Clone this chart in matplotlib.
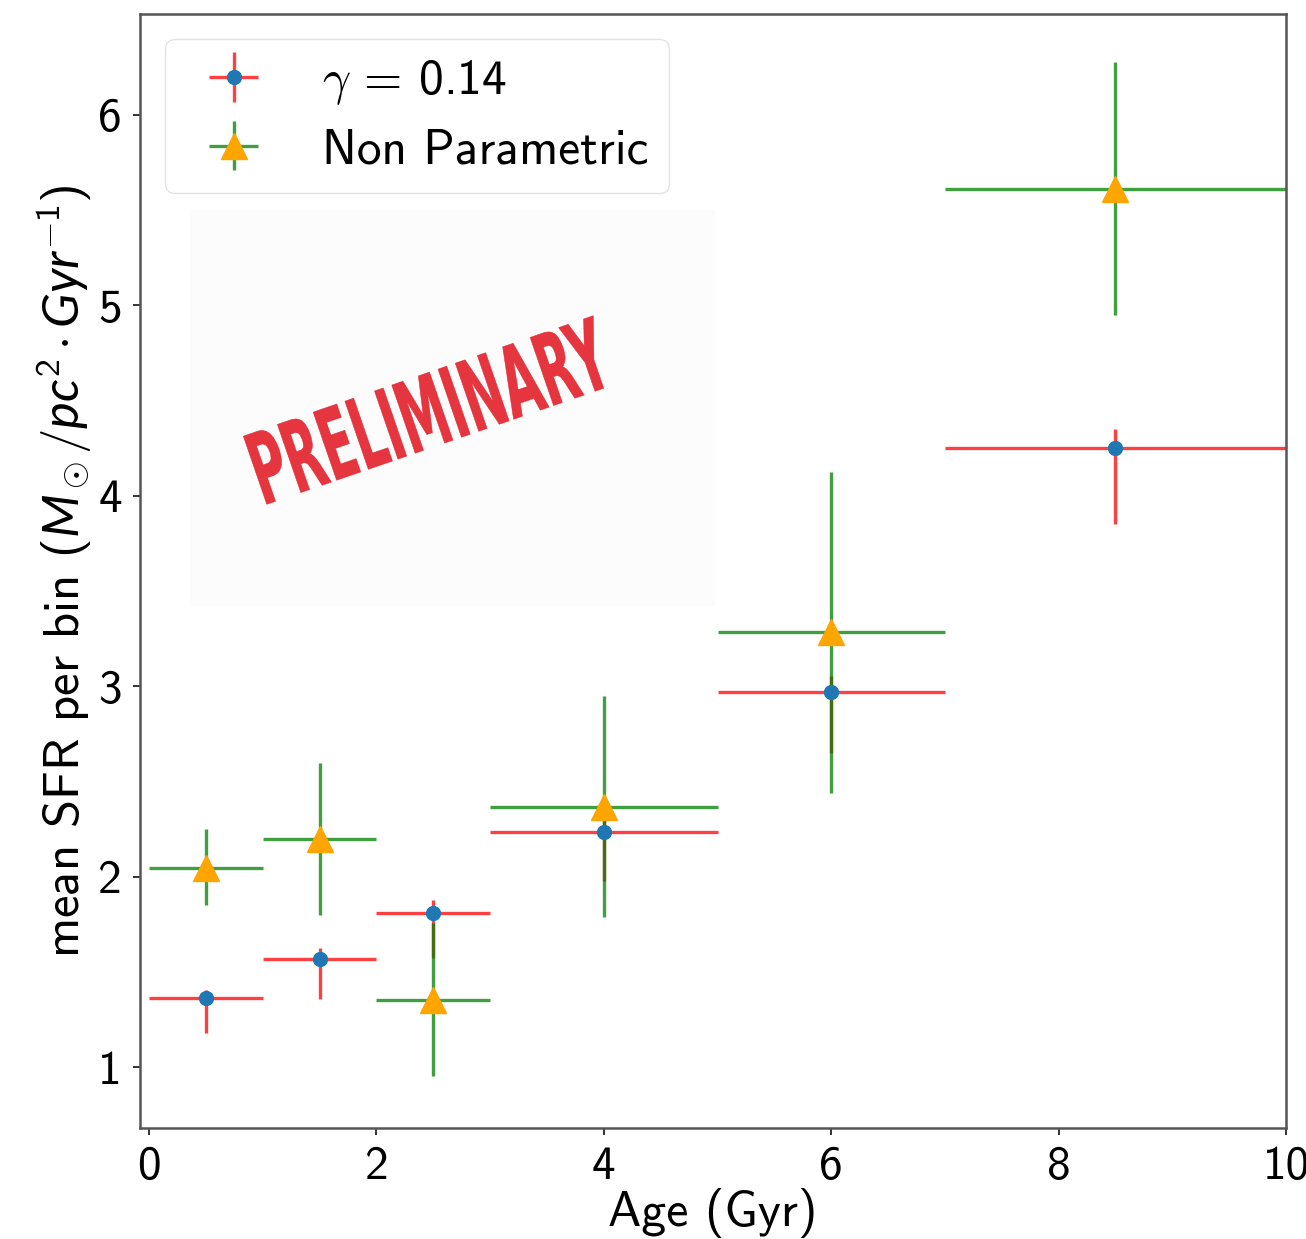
import matplotlib
matplotlib.use("Agg")
import matplotlib.pyplot as plt
from matplotlib.patches import Rectangle, PathPatch
from matplotlib.textpath import TextPath
from matplotlib.font_manager import FontProperties
from matplotlib.transforms import Affine2D

plt.rcParams['font.family'] = 'cmss10'
plt.rcParams['axes.unicode_minus'] = False
plt.rcParams['mathtext.fontset'] = 'custom'
plt.rcParams['mathtext.rm'] = 'cmss10'
plt.rcParams['mathtext.it'] = 'Lato:italic'
plt.rcParams['mathtext.bf'] = 'cmss10:bold'

# ---- age bins (Gyr) ----
bin_lo = [0, 1, 2, 3, 5, 7]
bin_hi = [1, 2, 3, 5, 7, 10]
age_mid = [0.5, 1.5, 2.5, 4, 6, 8.5]

# ---- gamma = 0.14 fit ----
sfr_gamma = [1.36, 1.57, 1.81, 2.236, 2.97, 4.25]
gamma_err_lo = [0.18, 0.215, 0.235, 0.26, 0.32, 0.40]
gamma_err_hi = [0.045, 0.053, 0.065, 0.065, 0.083, 0.10]

# ---- non parametric ----
sfr_np = [2.044, 2.196, 1.354, 2.368, 3.283, 5.611]
np_err_lo = [0.193, 0.40, 0.40, 0.58, 0.845, 0.66]
np_err_hi = [0.204, 0.40, 0.40, 0.58, 0.84, 0.665]

xerr_lo = [m - lo for m, lo in zip(age_mid, bin_lo)]
xerr_hi = [hi - m for m, hi in zip(age_mid, bin_hi)]

fig = plt.figure(figsize=(13.06, 12.39), dpi=100)
ax = fig.add_axes([0.1072, 0.0896, 0.8775, 0.8991])

ax.errorbar(age_mid, sfr_gamma, xerr=[xerr_lo, xerr_hi],
            yerr=[gamma_err_lo, gamma_err_hi], fmt='o', color='C0',
            ecolor='red', elinewidth=2.4, markersize=10,
            label=r'$\gamma$ = 0.14')
for c in ax.containers[-1][2]:
    c.set_alpha(0.75)

ax.errorbar(age_mid, sfr_np, xerr=[xerr_lo, xerr_hi],
            yerr=[np_err_lo, np_err_hi], fmt='^', color='orange',
            ecolor='green', elinewidth=2.4, markersize=19,
            label='Non Parametric')
for c in ax.containers[-1][2]:
    c.set_alpha(0.75)

ax.set_xlim(-0.08, 10)
ax.set_ylim(0.68, 6.53)
ax.set_xticks([0, 2, 4, 6, 8, 10])
ax.set_yticks([1, 2, 3, 4, 5, 6])

ax.set_xlabel('Age (Gyr)', fontsize=36, labelpad=0)
ax.set_ylabel(r'mean SFR per bin $(M_\odot/pc^2\cdot Gyr^{-1})$', fontsize=36.5)
ax.tick_params(labelsize=34, length=5, width=1.4, color='#333333', pad=8)
for s in ax.spines.values():
    s.set_linewidth(1.8)
    s.set_color('#555555')

leg = ax.legend(loc='upper left',
                prop=FontProperties(family='cmss10', size=35.5, math_fontfamily='cm'),
                borderpad=0.4, labelspacing=0.42, fancybox=True)
leg.get_frame().set_edgecolor('#dddddd')

# stamp in the empty upper-left area
ax.add_patch(Rectangle((0.044, 0.469), 0.458, 0.355, transform=ax.transAxes,
                       facecolor='#fcfcfc', edgecolor='none', zorder=0.5))
tp = TextPath((0, 0), 'PRELIMINARY', size=1,
              prop=FontProperties(family='DejaVu Sans', weight='bold'))
bb = tp.get_extents()
stamp_tr = (Affine2D()
            .translate(-bb.x0 - bb.width / 2, -bb.y0 - bb.height / 2)
            .scale(3.7 / bb.width, 0.72 / bb.height)
            .rotate_deg(19)
            .translate(4.3, 8.29)
            + fig.dpi_scale_trans)
fig.add_artist(PathPatch(tp, transform=stamp_tr, facecolor='#e3202a',
                         edgecolor='#e3202a', linewidth=0.4, alpha=0.9))

fig.savefig('out.png', dpi=100)
